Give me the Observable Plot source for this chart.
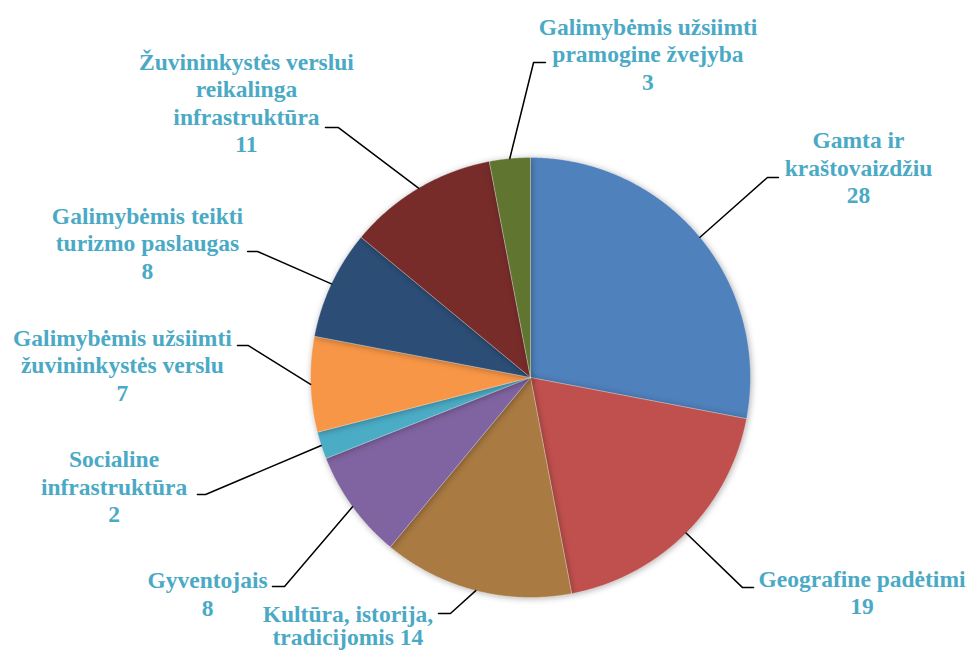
<!DOCTYPE html>
<html>
<head>
<meta charset="utf-8">
<script src="https://cdn.jsdelivr.net/npm/d3@7"></script>
<script src="https://cdn.jsdelivr.net/npm/@observablehq/plot@0.6"></script>
<style>
  html, body { margin: 0; padding: 0; background: #ffffff; }
  #chart svg g.pie path { filter: drop-shadow(1px 1px 3px rgba(0,0,0,0.3)); }
</style>
</head>
<body>
<div id="chart"></div>
<script>
// ---- Data (clockwise from 12 o'clock) ----
const categories = [
  "Gamta ir kraštovaizdžiu",
  "Geografine padėtimi",
  "Kultūra, istorija, tradicijomis",
  "Gyventojais",
  "Socialine infrastruktūra",
  "Galimybėmis užsiimti žuvininkystės verslu",
  "Galimybėmis teikti turizmo paslaugas",
  "Žuvininkystės verslui reikalinga infrastruktūra",
  "Galimybėmis užsiimti pramogine žvejyba"
];
const values = [28, 19, 14, 8, 2, 7, 8, 11, 3];
const labelLines = [
  ["Gamta ir", "kraštovaizdžiu"],
  ["Geografine padėtimi"],
  ["Kultūra, istorija,", "tradicijomis"],
  ["Gyventojais"],
  ["Socialine", "infrastruktūra"],
  ["Galimybėmis užsiimti", "žuvininkystės verslu"],
  ["Galimybėmis teikti", "turizmo paslaugas"],
  ["Žuvininkystės verslui", "reikalinga", "infrastruktūra"],
  ["Galimybėmis užsiimti", "pramogine žvejyba"]
];
const valueOnSameLine = [false, false, true, false, false, false, false, false, false];
const sliceColors = ["#4f81bd", "#c0504d", "#a97a42", "#8064a2", "#4bacc6", "#f79646", "#2c4d75", "#772c2a", "#5f7530"];

// ---- Annotation layout (units of pie radius; origin = pie centre, y up) ----
const labelLayout = [
  {tx: 1.491, ty: 0.791, ex: 1.077, ey: 0.909, hx: 1.127, tight: false},
  {tx: 1.507, ty: -1.077, ex: 0.964, ey: -0.955, hx: 1.014, tight: false},
  {tx: -0.830, ty: -1.218, ex: -0.364, ey: -1.073, hx: -0.418, tight: true},
  {tx: -1.468, ty: -1.082, ex: -1.118, ey: -0.950, hx: -1.173, tight: false},
  {tx: -1.893, ty: -0.659, ex: -1.477, ey: -0.532, hx: -1.514, tight: false},
  {tx: -1.855, ty: -0.105, ex: -1.282, ey: 0.145, hx: -1.332, tight: false},
  {tx: -1.741, ty: 0.450, ex: -1.241, ey: 0.573, hx: -1.286, tight: false},
  {tx: -1.291, ty: 1.023, ex: -0.873, ey: 1.136, hx: -0.932, tight: false},
  {tx: 0.534, ty: 1.309, ex: 0.014, ey: 1.432, hx: 0.068, tight: false}
];

const W = 970, H = 651;
const cx = 530, cy = 377, R = 220;

// ---- Build slice polygons from the data ----
const arcs = d3.pie().sort(null).value(d => d.value)(categories.map((c, i) => ({category: c, value: values[i]})));
const polys = [];
arcs.forEach(a => {
  const cat = a.data.category;
  polys.push({category: cat, x: 0, y: 0});
  const n = Math.max(2, Math.ceil((a.endAngle - a.startAngle) / 0.005));
  for (let k = 0; k <= n; k++) {
    const t = a.startAngle + (a.endAngle - a.startAngle) * k / n;
    polys.push({category: cat, x: Math.sin(t), y: Math.cos(t)});
  }
  polys.push({category: cat, x: 0, y: 0});
});

// ---- Leader lines & labels ----
const leaders = [];
const labels = [];
arcs.forEach((a, i) => {
  const m = (a.startAngle + a.endAngle) / 2;
  const L = labelLayout[i];
  const id = categories[i];
  leaders.push({id, x: Math.sin(m), y: Math.cos(m)});
  leaders.push({id, x: L.ex, y: L.ey});
  leaders.push({id, x: L.hx, y: L.ey});
  const lines = labelLines[i].slice();
  if (valueOnSameLine[i]) lines[lines.length - 1] += " " + values[i];
  else lines.push(String(values[i]));
  labels.push({x: L.tx, y: L.ty, text: lines.join("\n"), tight: L.tight});
});

const textStyle = {
  x: "x", y: "y", text: "text",
  fill: "#4aaac5", fontSize: 23.5, fontWeight: "bold",
  fontFamily: "'Liberation Serif', 'Times New Roman', serif",
  textAnchor: "middle", lineAnchor: "bottom"
};

const plot = Plot.plot({
  width: W,
  height: H,
  margin: 0,
  x: {domain: [-cx / R, (W - cx) / R], range: [0, W], axis: null},
  y: {domain: [-(H - cy) / R, cy / R], range: [H, 0], axis: null},
  color: {domain: categories, range: sliceColors},
  marks: [
    Plot.line(polys, {x: "x", y: "y", z: "category", fill: "category", stroke: "#ffffff", strokeWidth: 0.6, strokeOpacity: 0.5, className: "pie"}),
    Plot.line(leaders, {x: "x", y: "y", z: "id", stroke: "#000000", strokeWidth: 1.5}),
    Plot.text(labels.filter(d => !d.tight), {...textStyle, lineHeight: 1.17}),
    Plot.text(labels.filter(d => d.tight), {...textStyle, lineHeight: 1.0})
  ]
});
document.getElementById("chart").appendChild(plot);
</script>
</body>
</html>
